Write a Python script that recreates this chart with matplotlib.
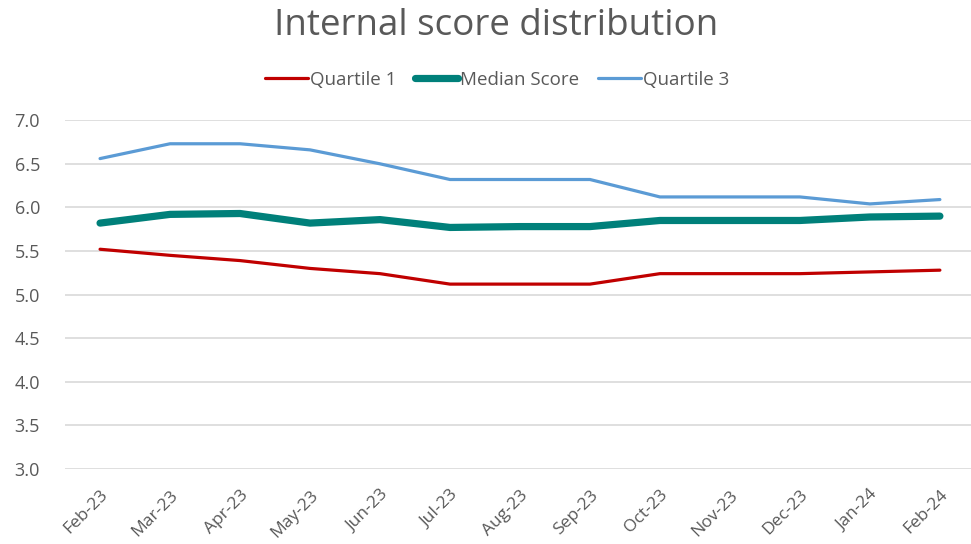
import matplotlib.pyplot as plt

months = ['Feb-23', 'Mar-23', 'Apr-23', 'May-23', 'Jun-23', 'Jul-23', 'Aug-23',
          'Sep-23', 'Oct-23', 'Nov-23', 'Dec-23', 'Jan-24', 'Feb-24']
quartile1 = [5.52, 5.45, 5.39, 5.30, 5.24, 5.12, 5.12, 5.12, 5.24, 5.24, 5.24, 5.26, 5.28]
median = [5.82, 5.92, 5.93, 5.82, 5.86, 5.77, 5.78, 5.78, 5.85, 5.85, 5.85, 5.89, 5.90]
quartile3 = [6.56, 6.73, 6.73, 6.66, 6.50, 6.32, 6.32, 6.32, 6.12, 6.12, 6.12, 6.04, 6.09]
yticks = [3.0, 3.5, 4.0, 4.5, 5.0, 5.5, 6.0, 6.5, 7.0]

plt.rcParams['font.family'] = ['Open Sans', 'DejaVu Sans']
grey = '#595959'

fig = plt.figure(figsize=(9.71, 5.44), dpi=100)
ax = fig.add_axes([0.067, 0.138, 0.937, 0.641])

x = list(range(len(months)))
ax.plot(x, quartile1, color='#C00000', lw=2.3, label='Quartile 1', solid_capstyle='round')
ax.plot(x, median, color='#00807A', lw=5.2, label='Median Score', solid_capstyle='round')
ax.plot(x, quartile3, color='#5B9BD5', lw=2.3, label='Quartile 3', solid_capstyle='round')

ax.set_xlim(-0.5, len(months) - 0.5)
ax.set_ylim(3.0, 7.0)
ax.set_yticks(yticks)
ax.set_yticklabels([f'{v:.1f}' for v in yticks])
ax.set_xticks(x)
ax.set_xticklabels(months, rotation=45, ha='right', rotation_mode='anchor')
ax.tick_params(length=0, colors=grey)
ax.tick_params(axis='y', pad=18, labelsize=13)
ax.tick_params(axis='x', pad=13, labelsize=12.5)
ax.grid(axis='y', color='#D9D9D9', lw=1.2)
ax.set_axisbelow(True)
for s in ax.spines.values():
    s.set_visible(False)

fig.text(0.511, 0.953, 'Internal score distribution', ha='center', va='center',
         fontsize=26.5, color=grey)
fig.legend(loc='center', bbox_to_anchor=(0.512, 0.853), ncol=3, frameon=False,
           fontsize=13.5, labelcolor=grey, handlelength=2.3, handletextpad=0.1,
           columnspacing=1.0)

fig.savefig('out.png', dpi=100)
